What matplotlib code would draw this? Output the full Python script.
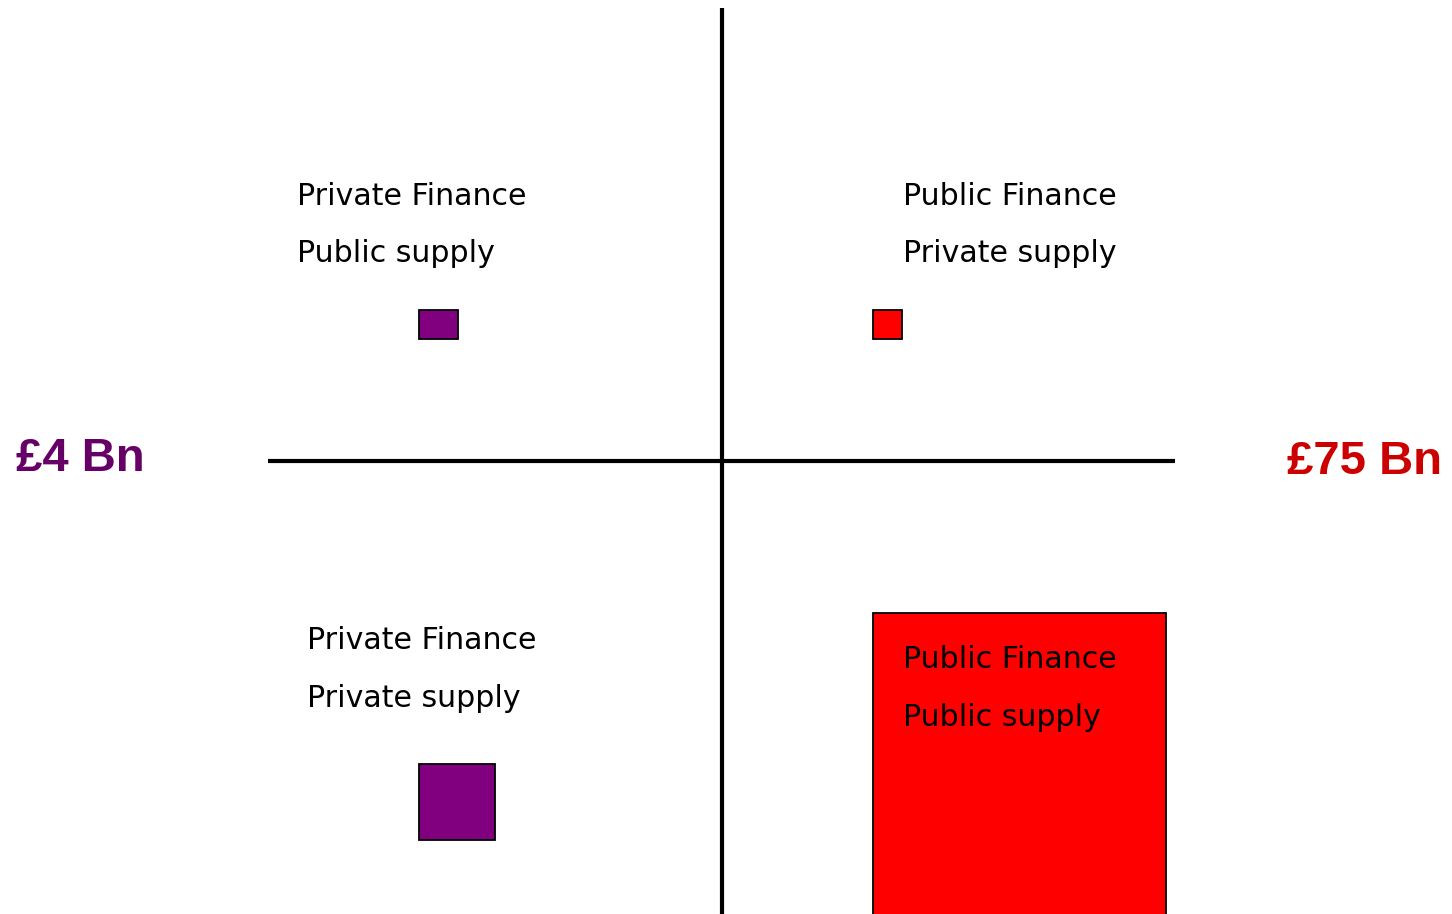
import matplotlib
matplotlib.use("Agg")
import matplotlib.pyplot as plt
from matplotlib.patches import Rectangle

# Data
quadrant_labels = [
    ("Private Finance", "Public supply"),
    ("Public Finance", "Private supply"),
    ("Private Finance", "Private supply"),
    ("Public Finance", "Public supply"),
]
box_widths = [39, 29, 76, 293]
box_heights = [29, 29, 76, 320]
box_colors = ["#800080", "#ff0000", "#800080", "#ff0000"]
totals = ["£4 Bn", "£75 Bn"]
total_colors = ["#660066", "#cc0000"]

# Layout (pixel coordinates)
W, H = 1452, 914
fig = plt.figure(figsize=(W / 100, H / 100), dpi=100)
ax = fig.add_axes([0, 0, 1, 1])
ax.set_xlim(0, W)
ax.set_ylim(H, 0)
ax.axis("off")

box_pos = [(419, 310), (873, 310), (419, 764), (873, 613)]
text_pos = [(297, 205, 262), (903, 205, 262), (307, 649, 707), (903, 668, 726)]

for (x, y), w, h, c in zip(box_pos, box_widths, box_heights, box_colors):
    ax.add_patch(Rectangle((x, y), w, h, facecolor=c, edgecolor="black", lw=1.3, zorder=2))

for (l1, l2), (x, y1, y2) in zip(quadrant_labels, text_pos):
    ax.text(x, y1, l1, fontsize=21.6, family="DejaVu Sans", va="baseline", ha="left", zorder=3)
    ax.text(x, y2, l2, fontsize=21.6, family="DejaVu Sans", va="baseline", ha="left", zorder=3)

ax.plot([722, 722], [8, 914], color="black", lw=3, solid_capstyle="butt", zorder=4)
ax.plot([268, 1175], [461, 461], color="black", lw=3, solid_capstyle="butt", zorder=4)

ax.text(16, 471, totals[0], fontsize=34, fontweight="bold", family="Liberation Sans",
        color=total_colors[0], va="baseline", ha="left")
ax.text(1442, 474, totals[1], fontsize=34, fontweight="bold", family="Liberation Sans",
        color=total_colors[1], va="baseline", ha="right")

fig.savefig("out.png", dpi=100)
